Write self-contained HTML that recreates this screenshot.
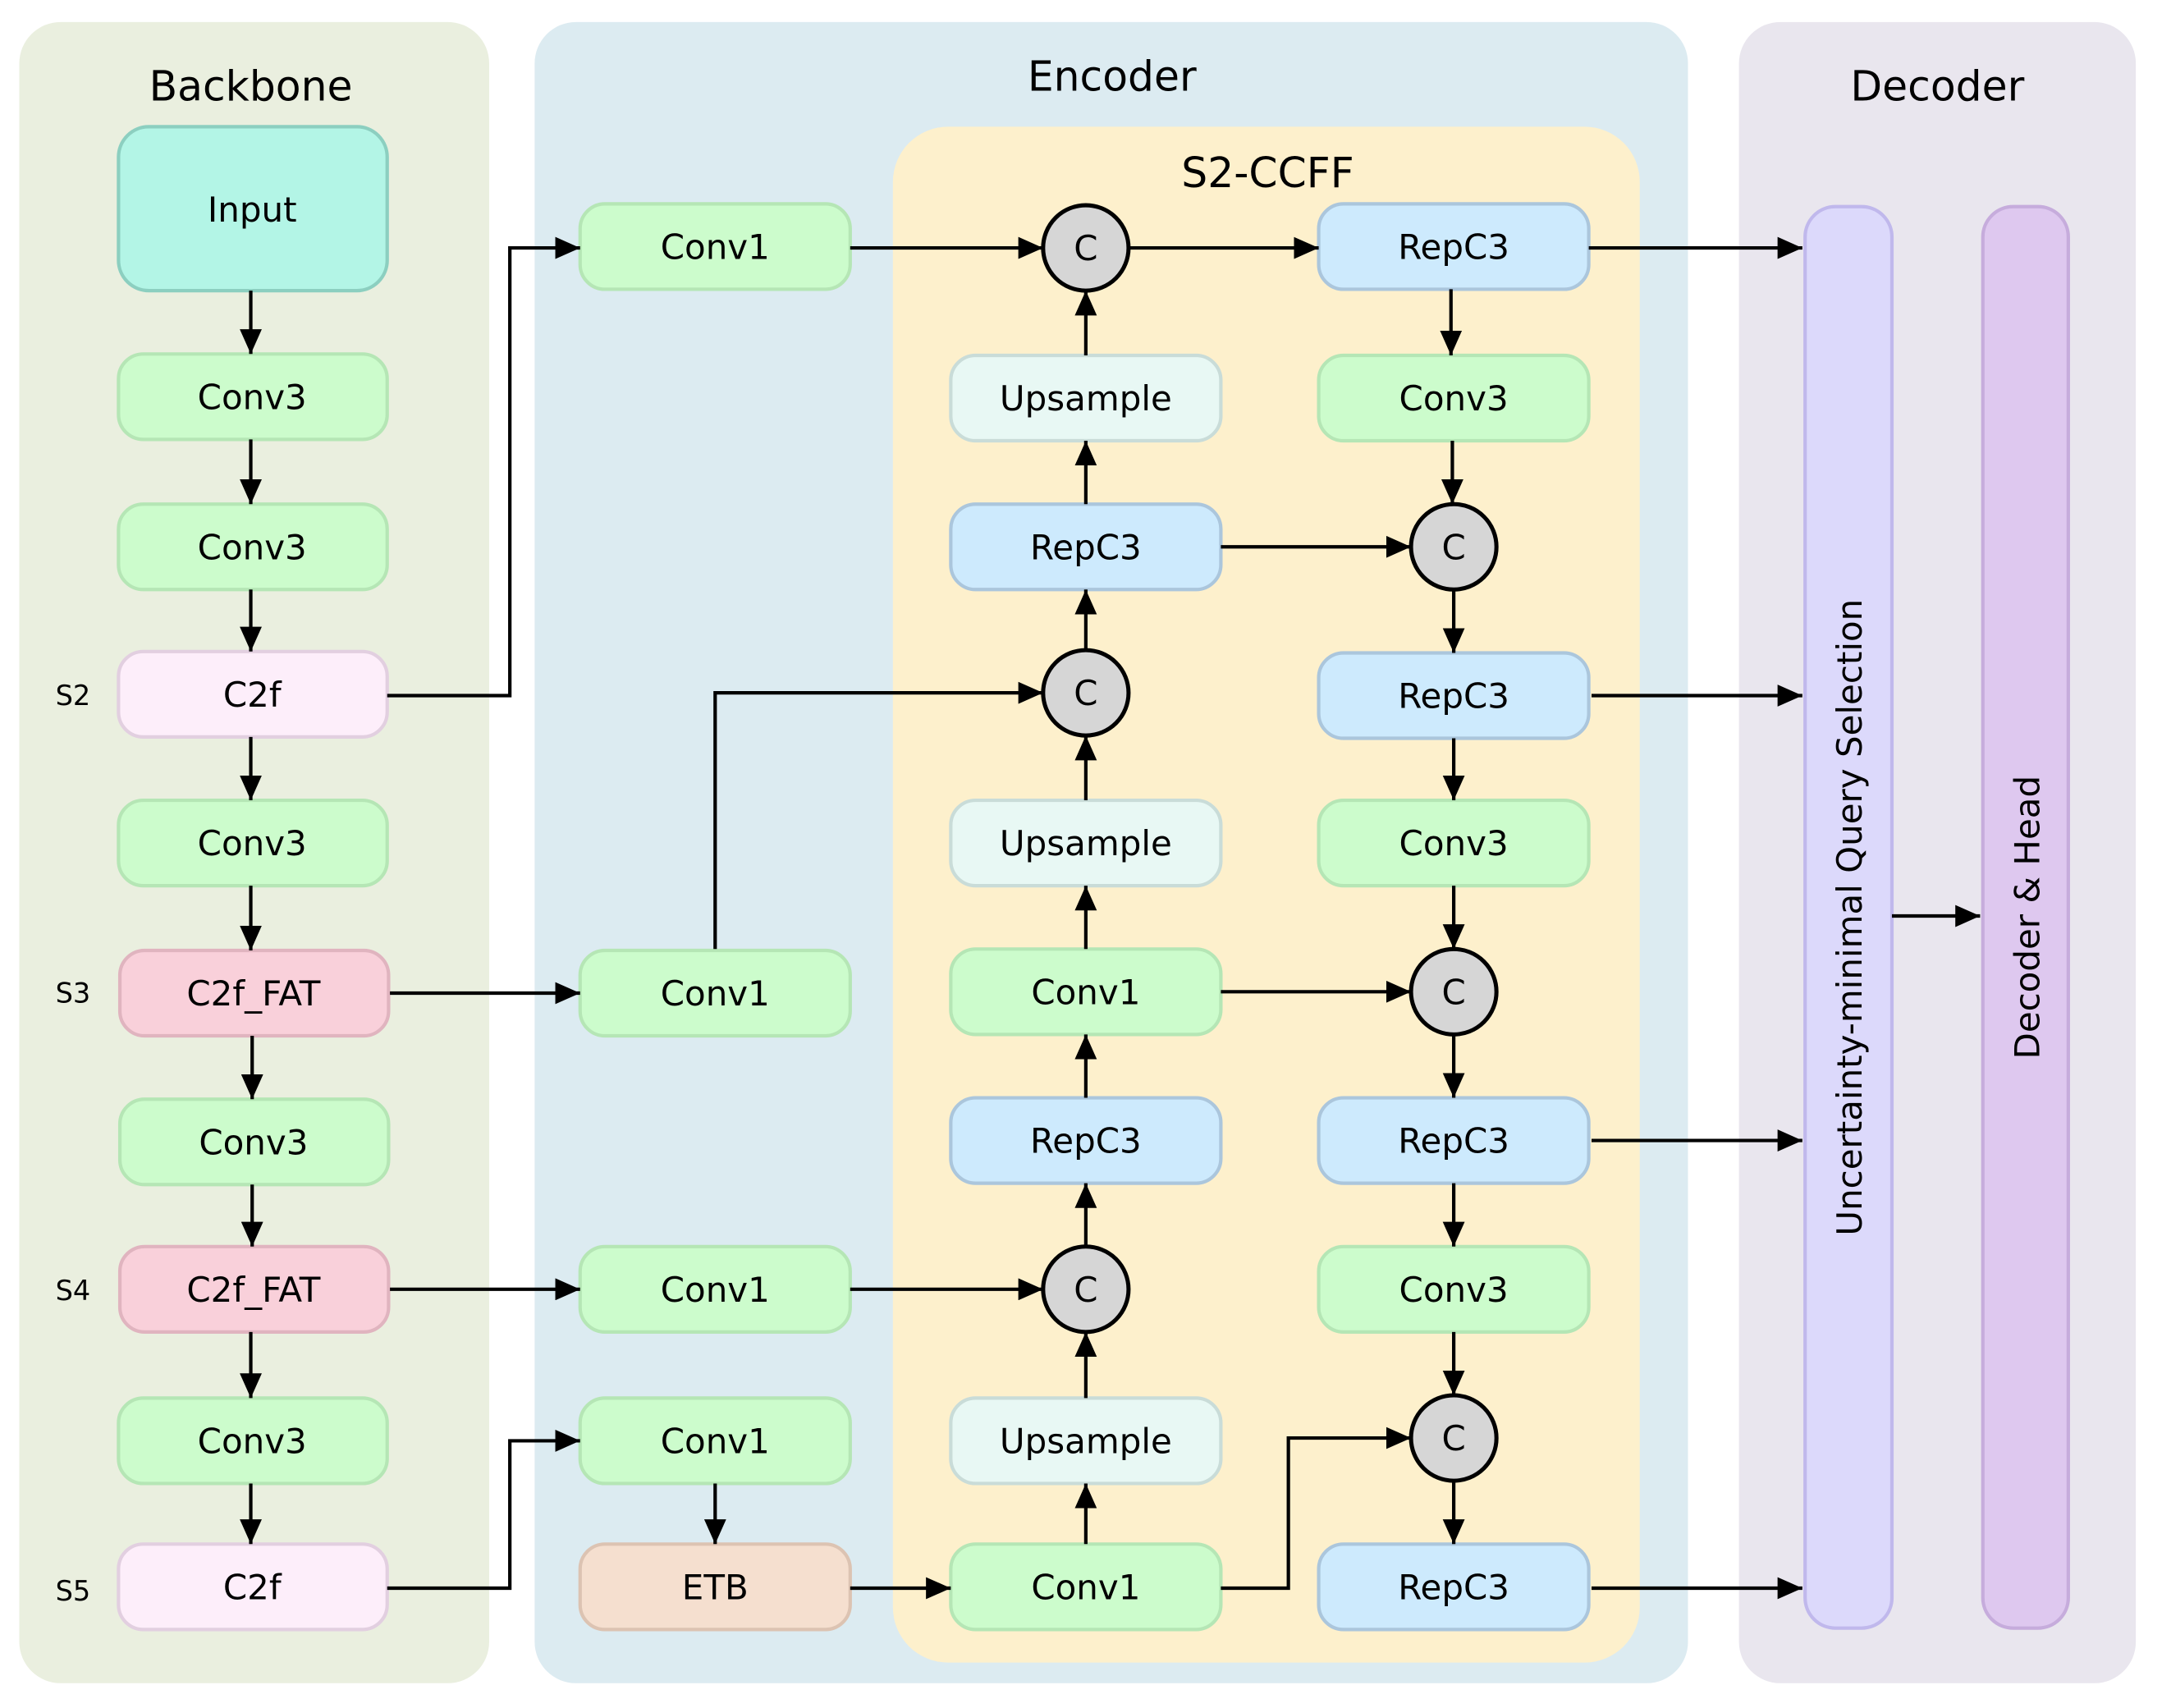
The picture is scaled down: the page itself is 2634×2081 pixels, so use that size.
<!DOCTYPE html>
<html><head><meta charset="utf-8"><style>html,body{margin:0;padding:0;background:#fff}svg{display:block}text{font-family:"DejaVu Sans","Liberation Sans",sans-serif;fill:#000}</style></head><body>
<svg width="2634" height="2081" viewBox="0 0 1569 1240" preserveAspectRatio="none" xmlns="http://www.w3.org/2000/svg">
<defs>
<marker id="m" viewBox="0 0 10 10" refX="10" refY="5" markerWidth="18" markerHeight="16" orient="auto" markerUnits="userSpaceOnUse" preserveAspectRatio="none"><path d="M0,0L10,5L0,10z" fill="#000"/></marker></defs>
<rect x="14" y="16" width="341" height="1206" rx="30" fill="#eaefdf"/>
<rect x="388" y="16" width="837" height="1206" rx="30" fill="#dcebf1"/>
<rect x="648" y="92" width="542" height="1115" rx="40" fill="#fdf0cc"/>
<rect x="1262" y="16" width="288" height="1206" rx="30" fill="#e9e6ee"/>
<g font-size="30" text-anchor="middle"><text x="182" y="73">Backbone</text><text x="807" y="66">Encoder</text><text x="920" y="136">S2-CCFF</text><text x="1406" y="73">Decoder</text></g>
<g font-size="20" text-anchor="middle"><text x="53" y="512">S2</text><text x="53" y="728">S3</text><text x="53" y="944">S4</text><text x="53" y="1162">S5</text></g>
<g stroke-width="2.5" font-size="25" text-anchor="middle">
<rect x="86" y="92" width="195" height="119" rx="22" fill="#b3f5e6" stroke="#8ccfc0"/><text x="183" y="161">Input</text>
<g fill="#ccfccc" stroke="#b5e6b5">
<rect x="86" y="257" width="195" height="62" rx="18"/><rect x="86" y="366" width="195" height="62" rx="18"/><rect x="86" y="581" width="195" height="62" rx="18"/><rect x="87" y="798" width="195" height="62" rx="18"/><rect x="86" y="1015" width="195" height="62" rx="18"/>
<rect x="421" y="148" width="196" height="62" rx="18"/><rect x="421" y="690" width="196" height="62" rx="18"/><rect x="421" y="905" width="196" height="62" rx="18"/><rect x="421" y="1015" width="196" height="62" rx="18"/>
<rect x="690" y="689" width="196" height="62" rx="18"/><rect x="690" y="1121" width="196" height="62" rx="18"/>
<rect x="957" y="258" width="196" height="62" rx="18"/><rect x="957" y="581" width="196" height="62" rx="18"/><rect x="957" y="905" width="196" height="62" rx="18"/></g>
<rect x="86" y="473" width="195" height="62" rx="18" fill="#fdeefa" stroke="#e2cfe0"/><rect x="86" y="1121" width="195" height="62" rx="18" fill="#fdeefa" stroke="#e2cfe0"/>
<rect x="87" y="690" width="195" height="62" rx="18" fill="#f9d0da" stroke="#e0b4bf"/><rect x="87" y="905" width="195" height="62" rx="18" fill="#f9d0da" stroke="#e0b4bf"/>
<rect x="421" y="1121" width="196" height="62" rx="18" fill="#f5dfcf" stroke="#dcc3b2"/>
<g fill="#e8f8f4" stroke="#c9dcd8"><rect x="690" y="258" width="196" height="62" rx="18"/><rect x="690" y="581" width="196" height="62" rx="18"/><rect x="690" y="1015" width="196" height="62" rx="18"/></g>
<g fill="#cdeafd" stroke="#abc6dc"><rect x="690" y="366" width="196" height="62" rx="18"/><rect x="690" y="797" width="196" height="62" rx="18"/><rect x="957" y="148" width="196" height="62" rx="18"/><rect x="957" y="474" width="196" height="62" rx="18"/><rect x="957" y="797" width="196" height="62" rx="18"/><rect x="957" y="1121" width="196" height="62" rx="18"/></g>
<rect x="1310" y="150" width="63" height="1032" rx="22" fill="#dcd9fb" stroke="#c0b8ec"/>
<rect x="1439" y="150" width="62" height="1032" rx="22" fill="#dec8ef" stroke="#c6acdc"/>
<g fill="#d6d6d6" stroke="#000" stroke-width="3"><circle cx="788" cy="180" r="31"/><circle cx="788" cy="503" r="31"/><circle cx="788" cy="936" r="31"/><circle cx="1055" cy="397" r="31"/><circle cx="1055" cy="720" r="31"/><circle cx="1055" cy="1044" r="31"/></g>
<g stroke="none">
<text x="183" y="297">Conv3</text><text x="183" y="406">Conv3</text><text x="183" y="513">C2f</text><text x="183" y="621">Conv3</text><text x="184" y="730">C2f_FAT</text><text x="184" y="838">Conv3</text><text x="184" y="945">C2f_FAT</text><text x="183" y="1055">Conv3</text><text x="183" y="1161">C2f</text>
<text x="519" y="188">Conv1</text><text x="519" y="730">Conv1</text><text x="519" y="945">Conv1</text><text x="519" y="1055">Conv1</text><text x="519" y="1161">ETB</text>
<text x="788" y="298">Upsample</text><text x="788" y="406">RepC3</text><text x="788" y="621">Upsample</text><text x="788" y="729">Conv1</text><text x="788" y="837">RepC3</text><text x="788" y="1055">Upsample</text><text x="788" y="1161">Conv1</text>
<text x="1055" y="188">RepC3</text><text x="1055" y="298">Conv3</text><text x="1055" y="514">RepC3</text><text x="1055" y="621">Conv3</text><text x="1055" y="837">RepC3</text><text x="1055" y="945">Conv3</text><text x="1055" y="1161">RepC3</text>
<text x="788" y="189">C</text><text x="788" y="512">C</text><text x="788" y="945">C</text><text x="1055" y="406">C</text><text x="1055" y="729">C</text><text x="1055" y="1053">C</text>
<text transform="translate(1351,666) rotate(-90)">Uncertainty-minimal Query Selection</text>
<text transform="translate(1480,666) rotate(-90)">Decoder &amp; Head</text></g>
</g>
<g stroke="#000" stroke-width="2.5" fill="none" marker-end="url(#m)">
<path d="M182 211V257"/><path d="M182 319V366"/><path d="M182 428V473"/><path d="M182 535V581"/><path d="M182 643V690"/><path d="M183 752V798"/><path d="M183 860V905"/><path d="M182 967V1015"/><path d="M182 1077V1121"/>
<path d="M281 505H370V180H421"/><path d="M283 721H421"/><path d="M519 689V503H757"/><path d="M283 936H421"/><path d="M281 1153H370V1046H421"/><path d="M519 1077V1121"/><path d="M617 1153H690"/>
<path d="M617 180H757"/><path d="M819 180H957"/><path d="M886 397H1024"/><path d="M886 720H1024"/><path d="M886 1153H935V1044H1024"/><path d="M617 936H757"/>
<path d="M788 1121V1077"/><path d="M788 1015V967"/><path d="M788 905V859"/><path d="M788 797V751"/><path d="M788 689V643"/><path d="M788 581V534"/><path d="M788 472V428"/><path d="M788 366V320"/><path d="M788 258V211"/>
<path d="M1053 210V258"/><path d="M1054 320V366"/><path d="M1055 428V474"/><path d="M1055 536V581"/><path d="M1055 643V689"/><path d="M1055 751V797"/><path d="M1055 859V905"/><path d="M1055 967V1013"/><path d="M1055 1075V1121"/>
<path d="M1153 180H1308"/><path d="M1155 505H1308"/><path d="M1155 828H1308"/><path d="M1155 1153H1308"/><path d="M1373 665H1437"/>
</g>
</svg></body></html>
